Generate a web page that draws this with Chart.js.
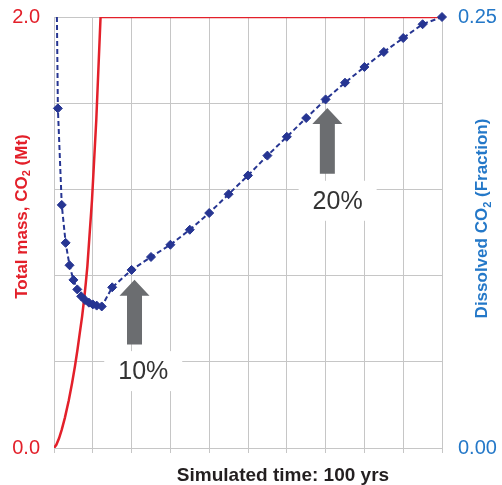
<!DOCTYPE html>
<html lang="en">
<head>
<meta charset="utf-8">
<title>Total mass and dissolved CO2</title>
<script src="https://cdn.jsdelivr.net/npm/chart.js"></script>
<style>
    html, body { margin: 0; padding: 0; background: #fff; }
    #wrap { width: 502px; height: 485px; }
</style>
</head>
<body>
<div id="wrap"><canvas id="co2Chart" width="502" height="485"></canvas></div>
<script>
// total mass of CO2 (Mt) - red solid line, left axis
const massTime  = [0, 0.6, 1.3, 2.0, 2.8, 3.8, 4.65, 5.4, 6.05, 6.65, 7.25, 7.75, 8.2, 8.6, 9.2, 9.8, 10.9, 12.0, 100];
const massValue = [0, 0.015, 0.045, 0.085, 0.14, 0.22, 0.3, 0.379, 0.456, 0.534, 0.611, 0.688, 0.766, 0.843, 0.998, 1.152, 1.523, 2.0, 2.0];

// dissolved CO2 fraction - blue dashed line with diamonds, right axis
const dissolvedTime  = [0.75, 1, 2, 3, 4, 5, 6, 7, 8, 9, 10, 11, 12.3, 15, 20, 25, 30, 35, 40, 45, 50, 55, 60, 65, 70, 75, 80, 85, 90, 95, 100];
const dissolvedValue = [0.25, 0.197, 0.141, 0.119, 0.106, 0.0975, 0.092, 0.088, 0.0858, 0.0843, 0.0833, 0.0826, 0.0821,
                        0.0932, 0.1033, 0.1108, 0.1179, 0.1266, 0.1363, 0.1472, 0.1581, 0.1696, 0.1805, 0.1914,
                        0.2022, 0.2119, 0.221, 0.2297, 0.2378, 0.2458, 0.25];

// axis ranges / labelled ticks
const timeRange = [0, 100];
const massTicks = [0, 2.0];
const fractionTicks = [0, 0.25];

// grey arrows + percentage notes (time, right-axis fraction)
const arrowTime  = [20.75, 70.45];
const arrowTip   = [0.0976, 0.1972];
const arrowEnd   = [0.060, 0.1591];
const noteText   = ['10%', '20%'];
const noteTime   = [23.0, 73.1];
const noteValue  = [0.0446, 0.1434];

const FONT = '"Liberation Sans", Arial, sans-serif';
const red = '#e3202a';
const blue = '#2478c8';
const navy = '#263592';
const gridGray = '#c6c6c6';

// draws text with a subscript part, centred on (0,0)
function drawRich(ctx, parts, size) {
    const fontFor = p => 'bold ' + (p.sub ? size * 0.65 : size) + 'px ' + FONT;
    let total = 0;
    parts.forEach(p => { ctx.font = fontFor(p); total += ctx.measureText(p.t).width; });
    let x = -total / 2;
    parts.forEach(p => {
        ctx.font = fontFor(p);
        ctx.fillText(p.t, x, p.sub ? size * 0.22 : 0);
        x += ctx.measureText(p.t).width;
    });
}

const annotate = {
    id: 'annotate',
    beforeDatasetsDraw(chart) {
        const ctx = chart.ctx;
        const xs = chart.scales.x, ys = chart.scales.y2;
        ctx.save();
        for (let i = 0; i < arrowTime.length; i++) {
            const cx = xs.getPixelForValue(arrowTime[i]);
            const tip = ys.getPixelForValue(arrowTip[i]);
            const end = ys.getPixelForValue(arrowEnd[i]);
            ctx.fillStyle = '#6b6d70';
            ctx.beginPath();
            ctx.moveTo(cx, tip);
            ctx.lineTo(cx + 15, tip + 16);
            ctx.lineTo(cx + 7.5, tip + 16);
            ctx.lineTo(cx + 7.5, end);
            ctx.lineTo(cx - 7.5, end);
            ctx.lineTo(cx - 7.5, tip + 16);
            ctx.lineTo(cx - 15, tip + 16);
            ctx.closePath();
            ctx.fill();

            // white text box over the grid
            const nx = xs.getPixelForValue(noteTime[i]);
            const ny = ys.getPixelForValue(noteValue[i]);
            ctx.fillStyle = '#fff';
            ctx.fillRect(nx - 39, ny - 20, 78, 40);
            ctx.fillStyle = '#333';
            ctx.font = '25px ' + FONT;
            ctx.textAlign = 'center';
            ctx.textBaseline = 'middle';
            ctx.fillText(noteText[i], nx, ny + 1);
        }
        ctx.restore();
    },
    afterDraw(chart) {
        const ctx = chart.ctx;
        ctx.save();
        ctx.textAlign = 'left';
        ctx.textBaseline = 'alphabetic';

        // left axis title
        ctx.fillStyle = red;
        ctx.translate(26.5, 216.5);
        ctx.rotate(-Math.PI / 2);
        drawRich(ctx, [{ t: 'Total mass, CO' }, { t: '2', sub: true }, { t: ' (Mt)' }], 17);
        ctx.setTransform(1, 0, 0, 1, 0, 0);

        // right axis title
        ctx.fillStyle = blue;
        ctx.translate(487, 218.5);
        ctx.rotate(-Math.PI / 2);
        drawRich(ctx, [{ t: 'Dissolved CO' }, { t: '2', sub: true }, { t: ' (Fraction)' }], 17);
        ctx.setTransform(1, 0, 0, 1, 0, 0);

        // x title
        ctx.fillStyle = '#231f20';
        ctx.translate(283, 480.5);
        drawRich(ctx, [{ t: 'Simulated time: 100 yrs' }], 19);
        ctx.restore();
    }
};

const isTick = (v, list) => list.some(t => Math.abs(v - t) < 1e-9);
// keep the tick labels from pushing the plot area around
const noPad = s => { s.paddingTop = 0; s.paddingBottom = 0; s.paddingLeft = 0; s.paddingRight = 0; };

new Chart(document.getElementById('co2Chart'), {
    type: 'line',
    data: {
        datasets: [{
            label: 'Dissolved CO2',
            data: dissolvedTime.map((t, i) => ({ x: t, y: dissolvedValue[i] })),
            yAxisID: 'y2',
            borderColor: navy,
            borderWidth: 2,
            borderDash: [5, 3],
            pointStyle: 'rectRot',
            pointRadius: c => c.dataIndex === 0 ? 0 : 4.5,
            pointBackgroundColor: navy,
            pointBorderColor: navy,
            pointBorderWidth: 1,
            tension: 0,
            clip: false
        }, {
            label: 'Total mass',
            data: massTime.map((t, i) => ({ x: t, y: massValue[i] })),
            yAxisID: 'y',
            borderColor: red,
            borderWidth: 2.5,
            pointRadius: 0,
            tension: 0
        }]
    },
    options: {
        responsive: false,
        devicePixelRatio: 1,
        animation: false,
        layout: { padding: { top: 17, left: 0, right: 0, bottom: 0 } },
        plugins: { legend: { display: false }, tooltip: { enabled: false } },
        scales: {
            x: {
                type: 'linear',
                min: timeRange[0], max: timeRange[1],
                ticks: { stepSize: 10, display: false },
                grid: { color: gridGray, tickLength: 5 },
                border: { color: gridGray },
                afterFit(s) { s.height = 37; noPad(s); }
            },
            y: {
                position: 'left',
                min: massTicks[0], max: massTicks[1],
                ticks: {
                    stepSize: 0.4, padding: 14, color: red,
                    font: { family: FONT, size: 20 },
                    callback: v => isTick(v, massTicks) ? v.toFixed(1) : ''
                },
                grid: { color: gridGray, drawTicks: false },
                border: { color: gridGray },
                afterFit(s) { s.width = 54; noPad(s); }
            },
            y2: {
                position: 'right',
                min: fractionTicks[0], max: fractionTicks[1],
                ticks: {
                    stepSize: 0.25, padding: 16, color: blue,
                    font: { family: FONT, size: 20 },
                    callback: v => isTick(v, fractionTicks) ? v.toFixed(2) : ''
                },
                grid: { display: false, drawTicks: false },
                border: { display: false },
                afterFit(s) { s.width = 60; noPad(s); }
            }
        }
    },
    plugins: [annotate]
});
</script>
</body>
</html>
